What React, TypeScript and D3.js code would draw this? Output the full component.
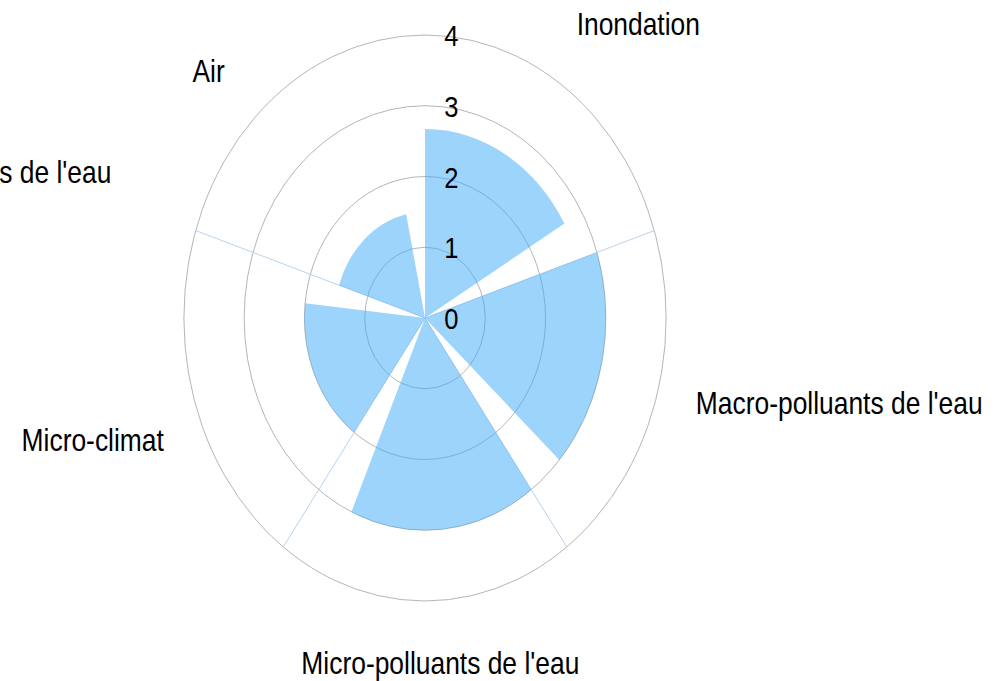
import React, { useEffect, useRef } from 'react';
import * as d3 from 'd3';

// chart data
const categories = ['Inondation', "Macro-polluants de l'eau", "Micro-polluants de l'eau", 'Micro-climat', 'Air'];
const values = [2.67, 3, 3, 2, 1.5];
const tickValues = [0, 1, 2, 3, 4];
const axisLabels = ['Inondation', "Macro-polluants de l'eau", "Micro-polluants de l'eau", 'Micro-climat', "Ressources de l'eau", 'Air'];

// where each outer label sits (degrees clockwise from top, radius in px before x-squeeze)
const labelLayout = [
    { angle: 32.2, radius: 334, anchor: 'start' },
    { angle: 106.75, radius: 332, anchor: 'start' },
    { angle: 177.1, radius: 356, anchor: 'middle' },
    { angle: 246.6, radius: 334, anchor: 'end' },
    { angle: 290.1, radius: 392, anchor: 'end' },
    { angle: 315.1, radius: 333, anchor: 'end' },
];

const WIDTH = 1008;
const HEIGHT = 681;
const CX = 425;
const CY = 318;
const RADIUS = 283;
const SQUEEZE = 0.852; // the chart is drawn narrower than tall
const FONT = "'Liberation Sans', Arial, sans-serif";

const PolarChart = () => {
    const svgRef = useRef<SVGSVGElement>(null);

    useEffect(() => {
        const svg = d3.select(svgRef.current);
        svg.selectAll('*').remove();

        const g = svg.append('g')
            .attr('transform', `translate(${CX},${CY}) scale(${SQUEEZE},1)`);

        const r = d3.scaleLinear().domain([0, 4]).range([0, RADIUS]);
        const angle = d3.scaleBand<string>()
            .domain(categories)
            .range([0, 2 * Math.PI])
            .paddingInner(1 / 6)
            .paddingOuter(1 / 12)
            .align(0);

        const polar = (a: number, rad: number) => [rad * Math.sin(a), -rad * Math.cos(a)];

        // rings
        g.selectAll('.ring')
            .data(tickValues.filter(t => t > 0))
            .enter().append('circle')
            .attr('class', 'ring')
            .attr('r', d => r(d))
            .attr('fill', 'none')
            .attr('stroke', '#b5b5b5')
            .attr('stroke-width', 1)
            .attr('vector-effect', 'non-scaling-stroke');

        // angle lines (none drawn on the top one)
        g.selectAll('.spoke')
            .data(categories.slice(1))
            .enter().append('line')
            .attr('class', 'spoke')
            .attr('x1', 0).attr('y1', 0)
            .attr('x2', d => polar(angle(d)!, r(4))[0])
            .attr('y2', d => polar(angle(d)!, r(4))[1])
            .attr('stroke', '#b9d3ec')
            .attr('stroke-width', 1)
            .attr('vector-effect', 'non-scaling-stroke');

        // wedges
        const arc = d3.arc<number>()
            .innerRadius(0)
            .outerRadius((d) => r(values[d]))
            .startAngle((d) => angle(categories[d])!)
            .endAngle((d) => angle(categories[d])! + angle.bandwidth());

        g.selectAll('.wedge')
            .data(values.map((_, i) => i))
            .enter().append('path')
            .attr('class', 'wedge')
            .attr('d', d => arc(d))
            .attr('fill', 'rgba(60,170,250,0.5)');

        // tick labels
        g.selectAll('.tick')
            .data(tickValues)
            .enter().append('text')
            .attr('class', 'tick')
            .attr('x', 31)
            .attr('y', d => -r(d) + 1)
            .attr('dominant-baseline', 'central')
            .attr('text-anchor', 'middle')
            .attr('font-family', FONT)
            .attr('font-size', 30)
            .attr('fill', '#000')
            .text(d => d);

        // category labels
        g.selectAll('.cat')
            .data(axisLabels)
            .enter().append('text')
            .attr('class', 'cat')
            .attr('x', (_, i) => polar(labelLayout[i].angle * Math.PI / 180, labelLayout[i].radius)[0])
            .attr('y', (_, i) => polar(labelLayout[i].angle * Math.PI / 180, labelLayout[i].radius)[1])
            .attr('text-anchor', (_, i) => labelLayout[i].anchor)
            .attr('font-family', FONT)
            .attr('font-size', 31)
            .attr('fill', '#000')
            .text(d => d);
    }, []);

    return (
        <svg
            ref={svgRef}
            width={WIDTH}
            height={HEIGHT}
            style={{ position: 'absolute', left: 0, top: 0, background: '#fff' }}
        ></svg>
    );
};

export default function App() {
    return <PolarChart />;
}
